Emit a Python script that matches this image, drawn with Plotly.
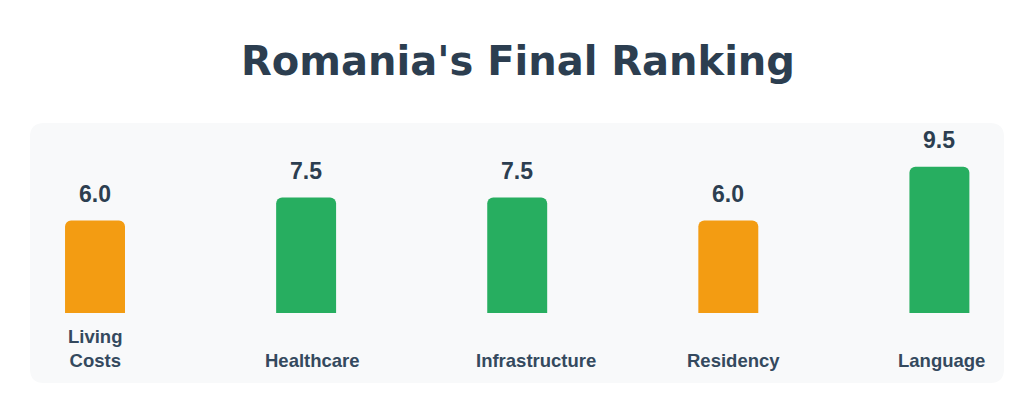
import plotly.graph_objects as go

# data
categories = ["Living<br>Costs", "Healthcare", "Infrastructure", "Residency", "Language"]
scores = [6.0, 7.5, 7.5, 6.0, 9.5]
bar_colors = ["#f39c12", "#27ae60", "#27ae60", "#f39c12", "#27ae60"]
score_labels = ["6.0", "7.5", "7.5", "6.0", "9.5"]

# the page body adds an 8px margin, so work in screen px minus 8
OFF = 8
W, H = 1024 - OFF, 404 - OFF
# plot area (screen px): x 30..1004, y 124..313
L, R = 30 - OFF, W - (1004 - OFF)
T, B = 124 - OFF, H - (313 - OFF)
pw = W - L - R
ph = H - T - B
px_per_unit = 15.4

# labels sit in an 84px box under each bar; long ones overflow to the right
LABEL_BOX = 84
label_anchor = ["center", "left", "left", "left", "left"]

positions = list(range(len(categories)))

fig = go.Figure()

fig.add_trace(go.Bar(
    x=positions,
    y=scores,
    width=0.284,
    marker=dict(color=bar_colors, line=dict(width=0), cornerradius=6),
    hoverinfo="skip",
))

# value labels above the bars
for i, (v, lab) in enumerate(zip(scores, score_labels)):
    fig.add_annotation(
        x=i, y=v, xref="x", yref="y",
        text=lab, showarrow=False,
        yanchor="bottom", yshift=12,
        font=dict(family="Liberation Sans", size=23, color="#2c3e50", weight="bold"),
    )

# category labels, bottom aligned under the bars
for i, cat in enumerate(categories):
    anchor = label_anchor[i]
    fig.add_annotation(
        x=i, y=0, xref="x", yref="y",
        text=cat, showarrow=False,
        xanchor=anchor, xshift=-LABEL_BOX / 2 - 1 if anchor == "left" else 0,
        yanchor="bottom", yshift=-60,
        font=dict(family="Liberation Sans", size=18.5, color="#34495e", weight="bold"),
    )


# rounded panel behind the chart (paper coords = plot area), screen px in
def px_x(p):
    return (p - OFF - L) / pw


def px_y(p):
    return (H - B - (p - OFF)) / ph


x0, x1 = px_x(30), px_x(1004)
y0, y1 = px_y(383), px_y(123)
rx, ry = 14 / pw, 14 / ph
panel = (
    f"M {x0 + rx},{y1} L {x1 - rx},{y1} Q {x1},{y1} {x1},{y1 - ry} "
    f"L {x1},{y0 + ry} Q {x1},{y0} {x1 - rx},{y0} "
    f"L {x0 + rx},{y0} Q {x0},{y0} {x0},{y0 + ry} "
    f"L {x0},{y1 - ry} Q {x0},{y1} {x0 + rx},{y1} Z"
)
fig.add_shape(type="path", path=panel, xref="paper", yref="paper",
              fillcolor="#f8f9fa", line=dict(width=0), layer="below")

fig.update_layout(
    width=W, height=H,
    margin=dict(l=L, r=R, t=T, b=B),
    paper_bgcolor="white",
    plot_bgcolor="rgba(0,0,0,0)",
    showlegend=False,
    title=dict(
        text="Romania's Final Ranking",
        x=(518 - OFF) / W, xanchor="center",
        y=1 - 53 / H, yanchor="middle",
        font=dict(family="DejaVu Sans", size=40, color="#2c3e50", weight="bold"),
    ),
    xaxis=dict(range=[-0.308, 4.306], visible=False, fixedrange=True),
    yaxis=dict(range=[0, ph / px_per_unit], visible=False, fixedrange=True),
)

fig.write_html("out.html")
